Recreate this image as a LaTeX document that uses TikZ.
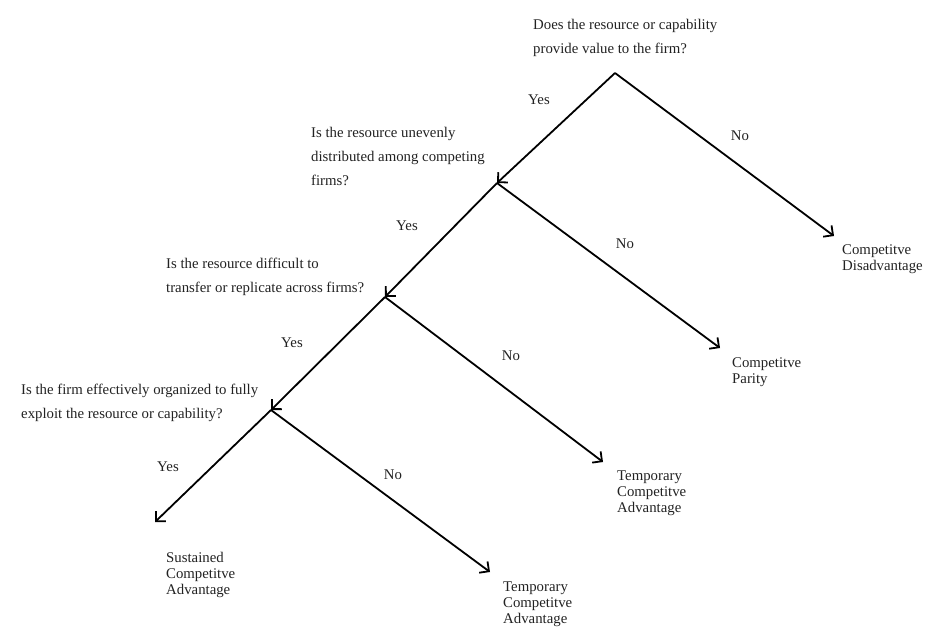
\documentclass[tikz,border=0pt]{standalone}
\usepackage{fontspec}
\setmainfont{Liberation Serif}
\usetikzlibrary{arrows.meta}
\definecolor{ink}{HTML}{222222}
\begin{document}
\begin{tikzpicture}[x=1pt,y=-1pt,
  question/.style={anchor=north west,inner sep=0pt,align=left,text=ink,
    font=\fontsize{14.8}{24}\selectfont},
  outcome/.style={anchor=north west,inner sep=0pt,align=left,text=ink,
    font=\fontsize{14.8}{16}\selectfont},
  answer/.style={inner sep=0pt,text=ink,font=\fontsize{14.8}{16}\selectfont},
  branch/.style={draw=black,line width=1.8pt,
    -{Straight Barb[length=7pt,width=14pt,line width=1.8pt]}}]
\useasboundingbox (0,0) rectangle (925,626);
% junctions and arrow ends
\coordinate (A) at (615,73);
\coordinate (B) at (497,183);
\coordinate (C) at (385,297);
\coordinate (D) at (271,410);
\coordinate (e1) at (834,236);
\coordinate (e2) at (720,348);
\coordinate (e3) at (603,462);
\coordinate (e4) at (155,522);
\coordinate (e5) at (490,572);
% questions
\node[question] (q1) at (533,19) {Does the resource or capability\\provide value to the firm?};
\node[question] (q2) at (311,127) {Is the resource unevenly\\distributed among competing\\firms?};
\node[question] (q3) at (166,258) {Is the resource difficult to\\transfer or replicate across firms?};
\node[question] (q4) at (21,384) {Is the firm effectively organized to fully\\exploit the resource or capability?};
% outcomes
\node[outcome] (o1) at (842,244) {Competitve\\Disadvantage};
\node[outcome] (o2) at (732,357) {Competitve\\Parity};
\node[outcome] (o3) at (617,471) {Temporary\\Competitve\\Advantage};
\node[outcome] (o4) at (166,552) {Sustained\\Competitve\\Advantage};
\node[outcome] (o5) at (503,582) {Temporary\\Competitve\\Advantage};
% branches
\draw[branch] (A) -- (B);
\draw[branch] (A) -- (e1);
\draw[branch] (B) -- (C);
\draw[branch] (B) -- (e2);
\draw[branch] (C) -- (D);
\draw[branch] (C) -- (e3);
\draw[branch] (D) -- (e4);
\draw[branch] (D) -- (e5);
% labels
\node[answer] (y1) at (539,100) {Yes};
\node[answer] (n1) at (740,136) {No};
\node[answer] (y2) at (407,226) {Yes};
\node[answer] (n2) at (625,244) {No};
\node[answer] (y3) at (292,343) {Yes};
\node[answer] (n3) at (511,356) {No};
\node[answer] (y4) at (168,467) {Yes};
\node[answer] (n4) at (393,475) {No};
\end{tikzpicture}
\end{document}
